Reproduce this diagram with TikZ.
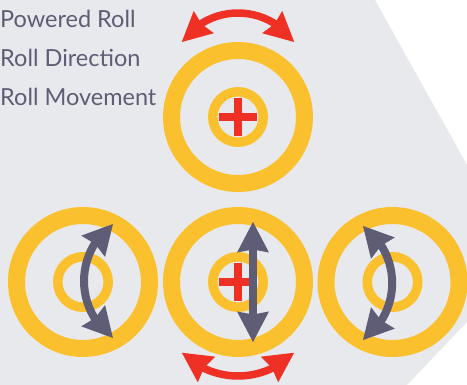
\documentclass[tikz,border=0pt]{standalone}
\usepackage{fontspec}
\newfontfamily\lato{Lato}
\usetikzlibrary{calc}
\definecolor{bgray}{HTML}{E8E9ED}
\definecolor{ryellow}{HTML}{FBC02D}
\definecolor{rred}{HTML}{EE3124}
\definecolor{slate}{HTML}{5E5D75}
\tikzset{
  outerring/.style={draw=ryellow,line width=17pt},
  innerring/.style={draw=ryellow,line width=9.5pt},
  crossbar/.style={draw=rred,line width=8.5pt},
  redshaft/.style={draw=rred,line width=7.5pt},
  slateshaft/.style={draw=slate,line width=8pt},
  legend/.style={font=\lato\fontsize{23.5}{28}\selectfont,text=slate,inner sep=0pt,anchor=base west},
}
% arrow head on a circle: #1 centre, #2 radius, #3 tip angle, #4 back angle, #5 colour, #6 half width
\newcommand\rollhead[6]{%
  \path ($(#1)+(#3:#2)$) coordinate (hT) ($(#1)+(#4:#2)$) coordinate (hB);
  \fill[#5] (hT) -- ($(hB)!#6!90:(hT)$) -- ($(hB)!3pt!(hT)$) -- ($(hB)!#6!-90:(hT)$) -- cycle;}
\begin{document}
\begin{tikzpicture}[x=1pt,y=-1pt]
\useasboundingbox (0,0) rectangle (467,385);
\clip (0,0) rectangle (467,385);
\fill[white] (0,0) rectangle (467,385);
\fill[bgray] (0,0) -- (375,0) -- (467,165) -- (467,322) -- (407,385) -- (0,385) -- cycle;
% legend
\node[legend] (t1) at (0,27.3) {Powered Roll};
\node[legend] (t2) at (0,66.7) {Roll Direction};
\node[legend] (t3) at (0,106) {Roll Movement};
% rolls
\foreach \n/\cx/\cy in {top/238/117, left/83/282, mid/238/282, right/392.5/282}{
  \coordinate (\n) at (\cx,\cy);
  \draw[outerring] (\n) circle[radius=66.5];
  \draw[innerring] (\n) circle[radius=25.25];
}
% crosses
\foreach \n in {top,mid}{
  \draw[crossbar] ([xshift=-19pt]\n) -- ([xshift=19pt]\n);
  \draw[crossbar] ([yshift=19pt]\n) -- ([yshift=-19pt]\n);
}
% red roll-direction arrows
\coordinate (cra) at (238,82);
\draw[redshaft] ($(cra)+(235.3:69)$) arc[start angle=235.3, end angle=304.7, radius=69];
\rollhead{cra}{69}{215.4}{240.3}{rred}{15pt}
\rollhead{cra}{69}{324.6}{299.7}{rred}{15pt}
\coordinate (crb) at (238,296.6);
\draw[redshaft] ($(crb)+(117.7:79.4)$) arc[start angle=117.7, end angle=62.3, radius=79.4];
\rollhead{crb}{79.4}{135}{113.35}{rred}{15.5pt}
\rollhead{crb}{79.4}{45}{66.65}{rred}{15.5pt}
% slate movement arrows
\coordinate (cga) at (154.5,281);
\draw[slateshaft] ($(cga)+(214.4:70.5)$) arc[start angle=214.4, end angle=145.6, radius=70.5];
\rollhead{cga}{70.5}{233.9}{209.5}{slate}{16pt}
\rollhead{cga}{70.5}{126.1}{150.5}{slate}{16pt}
\coordinate (cgc) at (321.88,283.02);
\draw[slateshaft] ($(cgc)+(-34.6:70.3)$) arc[start angle=-34.6, end angle=34.6, radius=70.3];
\rollhead{cgc}{70.3}{-54.2}{-29.75}{slate}{16pt}
\rollhead{cgc}{70.3}{54.2}{29.75}{slate}{16pt}
\coordinate (gbT) at (253,222);
\coordinate (gbB) at (253,342);
\draw[slateshaft] ($(gbT)+(0,24)$) -- ($(gbB)+(0,-24)$);
\fill[slate] (gbT) -- ($(gbT)+(16,30.5)$) -- ($(gbT)+(0,27.5)$) -- ($(gbT)+(-16,30.5)$) -- cycle;
\fill[slate] (gbB) -- ($(gbB)+(16,-30.5)$) -- ($(gbB)+(0,-27.5)$) -- ($(gbB)+(-16,-30.5)$) -- cycle;
\end{tikzpicture}
\end{document}
